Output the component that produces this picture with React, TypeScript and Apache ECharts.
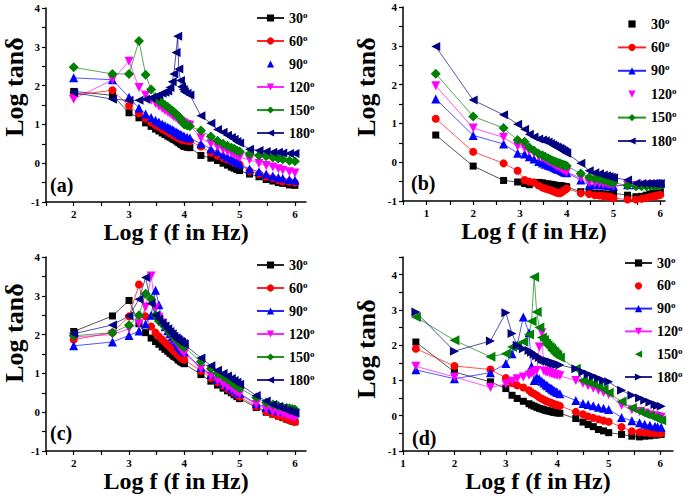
import React, { useEffect, useRef } from 'react';
import * as echarts from 'echarts';

const FONT = '"Liberation Serif", "Times New Roman", serif';

const NAMES = ['30', '60', '90', '120', '150', '180'];
const COLORS = ['#000000', '#ff0000', '#0000ff', '#ff00ff', '#008000', '#000080'];

// Panel (a)
const XA = [2, 2.7, 3, 3.18, 3.3, 3.4, 3.48, 3.54, 3.6, 3.65, 3.7, 3.74, 3.78, 3.81, 3.85, 3.88, 3.9, 3.93, 3.95, 3.98, 4.0, 4.05, 4.1, 4.3, 4.48, 4.6, 4.7, 4.78, 4.85, 4.9, 4.95, 5.0, 5.18, 5.35, 5.48, 5.6, 5.7, 5.78, 5.9, 6.0];
const A30 = [1.85, 1.75, 1.3, 1.17, 1.04, 0.95, 0.88, 0.83, 0.78, 0.74, 0.70, 0.67, 0.64, 0.61, 0.58, 0.55, 0.53, 0.50, 0.48, 0.45, 0.43, 0.41, 0.40, 0.20, 0.13, 0.07, 0.0, -0.05, -0.1, -0.13, -0.16, -0.19, -0.28, -0.35, -0.42, -0.46, -0.5, -0.52, -0.56, -0.57];
const A60 = [1.75, 1.88, 1.48, 1.28, 1.15, 1.05, 0.98, 0.93, 0.88, 0.84, 0.80, 0.77, 0.74, 0.71, 0.68, 0.66, 0.64, 0.62, 0.61, 0.60, 0.59, 0.58, 0.57, 0.43, 0.27, 0.19, 0.13, 0.09, 0.05, 0.02, 0.0, -0.03, -0.2, -0.28, -0.35, -0.39, -0.44, -0.47, -0.48, -0.5];
const A90 = [2.2, 2.15, 1.7, 1.42, 1.27, 1.18, 1.11, 1.06, 1.01, 0.97, 0.93, 0.90, 0.87, 0.84, 0.81, 0.78, 0.76, 0.74, 0.72, 0.70, 0.69, 0.67, 0.65, 0.5, 0.37, 0.3, 0.22, 0.16, 0.11, 0.07, 0.03, -0.02, -0.15, -0.22, -0.28, -0.33, -0.37, -0.39, -0.42, -0.44];
const A120 = [1.65, 2.15, 2.63, 1.95, 1.75, 1.62, 1.54, 1.47, 1.41, 1.36, 1.32, 1.28, 1.24, 1.2, 1.17, 1.14, 1.11, 1.08, 1.06, 1.04, 1.02, 1.0, 0.98, 0.65, 0.5, 0.42, 0.35, 0.3, 0.26, 0.22, 0.19, 0.15, 0.09, -0.01, -0.06, -0.1, -0.14, -0.18, -0.22, -0.25];
const A150 = [2.47, 2.3, 2.3, 3.15, 2.28, 1.9, 1.7, 1.6, 1.55, 1.5, 1.45, 1.4, 1.36, 1.32, 1.27, 1.23, 1.2, 1.15, 1.1, 1.05, 1.0, 0.97, 0.95, 0.84, 0.69, 0.58, 0.5, 0.45, 0.4, 0.37, 0.33, 0.3, 0.24, 0.2, 0.18, 0.15, 0.12, 0.1, 0.06, 0.05];
const A180 = [1.82, 1.65, 1.62, 1.62, 1.65, 1.68, 1.72, 1.76, 1.8, 1.83, 1.86, 1.95, 2.1, 2.3, 2.85, 3.27, 2.43, 2.13, 1.97, 1.9, 1.84, 1.8, 1.76, 1.22, 1.03, 0.87, 0.8, 0.72, 0.66, 0.62, 0.56, 0.52, 0.36, 0.33, 0.3, 0.28, 0.28, 0.26, 0.25, 0.25];

// Panel (b)
const XB = [1.2, 2.0, 2.65, 2.95, 3.1, 3.2, 3.3, 3.4, 3.48, 3.54, 3.6, 3.65, 3.7, 3.74, 3.78, 3.81, 3.85, 3.88, 3.9, 3.93, 3.95, 3.98, 4.0, 4.3, 4.48, 4.6, 4.7, 4.78, 4.85, 4.9, 4.95, 5.0, 5.3, 5.48, 5.6, 5.7, 5.78, 5.85, 5.9, 5.95, 6.0];
const B30 = [0.7, -0.1, -0.47, -0.51, -0.55, -0.58, -0.53, -0.52, -0.53, -0.55, -0.56, -0.57, -0.58, -0.59, -0.6, -0.6, -0.61, -0.61, -0.62, -0.62, -0.63, -0.63, -0.64, -0.76, -0.78, -0.8, -0.81, -0.82, -0.82, -0.83, -0.83, -0.8, -0.85, -0.89, -0.88, -0.85, -0.82, -0.8, -0.79, -0.77, -0.76];
const B60 = [1.12, 0.27, -0.03, -0.22, -0.46, -0.5, -0.52, -0.6, -0.65, -0.68, -0.7, -0.72, -0.74, -0.76, -0.78, -0.79, -0.8, -0.78, -0.76, -0.74, -0.72, -0.7, -0.68, -0.8, -0.82, -0.85, -0.86, -0.87, -0.88, -0.89, -0.9, -0.93, -0.96, -0.96, -0.94, -0.92, -0.9, -0.88, -0.87, -0.86, -0.84];
const B90 = [1.63, 0.69, 0.47, 0.23, 0.21, 0.14, 0.08, 0.02, -0.02, -0.05, -0.08, -0.1, -0.12, -0.14, -0.16, -0.18, -0.19, -0.21, -0.22, -0.24, -0.25, -0.26, -0.27, -0.46, -0.59, -0.58, -0.58, -0.59, -0.59, -0.6, -0.6, -0.62, -0.58, -0.58, -0.57, -0.57, -0.56, -0.56, -0.56, -0.55, -0.55];
const B120 = [1.97, 0.88, 0.64, 0.41, 0.36, 0.28, 0.23, 0.15, 0.1, 0.06, 0.02, -0.01, -0.04, -0.07, -0.1, -0.12, -0.14, -0.16, -0.18, -0.2, -0.21, -0.23, -0.25, -0.41, -0.53, -0.54, -0.55, -0.56, -0.56, -0.57, -0.57, -0.6, -0.6, -0.6, -0.6, -0.6, -0.59, -0.59, -0.58, -0.58, -0.58];
const B150 = [2.28, 1.18, 0.88, 0.57, 0.53, 0.38, 0.3, 0.22, 0.18, 0.14, 0.1, 0.07, 0.04, 0.02, 0.0, -0.02, -0.03, -0.05, -0.06, -0.07, -0.08, -0.09, -0.1, -0.29, -0.39, -0.42, -0.44, -0.46, -0.48, -0.5, -0.51, -0.53, -0.6, -0.62, -0.62, -0.62, -0.61, -0.61, -0.61, -0.6, -0.6];
const B180 = [2.98, 1.6, 1.22, 0.98, 0.85, 0.72, 0.65, 0.6, 0.57, 0.55, 0.52, 0.48, 0.45, 0.42, 0.39, 0.37, 0.35, 0.33, 0.31, 0.29, 0.27, 0.25, 0.23, -0.03, -0.22, -0.27, -0.3, -0.33, -0.35, -0.37, -0.39, -0.4, -0.46, -0.54, -0.55, -0.55, -0.55, -0.55, -0.55, -0.55, -0.55];

// Panel (c)
const XC = [2, 2.7, 3, 3.18, 3.3, 3.4, 3.48, 3.54, 3.6, 3.65, 3.7, 3.74, 3.78, 3.81, 3.85, 3.88, 3.9, 3.93, 3.95, 3.98, 4.0, 4.3, 4.48, 4.6, 4.7, 4.78, 4.85, 4.9, 4.95, 5.0, 5.3, 5.48, 5.6, 5.7, 5.78, 5.85, 5.9, 5.95, 6.0];
const C30 = [2.08, 2.48, 2.88, 2.28, 2.05, 1.91, 1.82, 1.75, 1.68, 1.62, 1.57, 1.52, 1.48, 1.44, 1.41, 1.37, 1.34, 1.31, 1.29, 1.27, 1.25, 0.97, 0.8, 0.7, 0.62, 0.55, 0.5, 0.45, 0.4, 0.35, 0.12, 0.0, -0.05, -0.1, -0.14, -0.18, -0.2, -0.23, -0.25];
const C60 = [1.87, 2.05, 2.47, 3.29, 2.47, 2.21, 2.05, 1.95, 1.87, 1.8, 1.74, 1.68, 1.62, 1.57, 1.53, 1.49, 1.45, 1.42, 1.39, 1.37, 1.35, 1.07, 0.88, 0.77, 0.68, 0.6, 0.55, 0.5, 0.45, 0.4, 0.15, 0.02, -0.05, -0.1, -0.13, -0.17, -0.2, -0.22, -0.25];
const C90 = [1.71, 1.81, 1.98, 2.09, 2.27, 2.5, 3.14, 2.77, 2.35, 2.2, 2.1, 2.02, 1.95, 1.88, 1.82, 1.76, 1.7, 1.66, 1.62, 1.58, 1.55, 1.15, 0.97, 0.85, 0.75, 0.68, 0.62, 0.57, 0.52, 0.48, 0.22, 0.12, 0.07, 0.04, 0.02, 0.0, 0.0, -0.01, -0.02];
const C120 = [1.94, 2.0, 2.15, 2.28, 2.71, 3.51, 2.69, 2.45, 2.3, 2.2, 2.1, 2.0, 1.93, 1.86, 1.8, 1.75, 1.7, 1.65, 1.6, 1.56, 1.52, 1.12, 0.93, 0.82, 0.72, 0.65, 0.6, 0.55, 0.5, 0.46, 0.2, 0.08, 0.02, -0.02, -0.05, -0.08, -0.1, -0.12, -0.14];
const C150 = [1.97, 2.05, 2.24, 2.5, 3.05, 2.92, 2.5, 2.35, 2.28, 2.2, 2.13, 2.06, 2.0, 1.94, 1.89, 1.84, 1.8, 1.76, 1.73, 1.7, 1.68, 1.3, 1.12, 1.0, 0.92, 0.85, 0.78, 0.72, 0.67, 0.62, 0.38, 0.25, 0.2, 0.16, 0.13, 0.11, 0.1, 0.08, 0.07];
const C180 = [2.02, 2.25, 2.48, 2.91, 3.47, 2.8, 2.5, 2.4, 2.3, 2.22, 2.15, 2.08, 2.02, 1.96, 1.92, 1.88, 1.85, 1.82, 1.8, 1.77, 1.75, 1.4, 1.2, 1.08, 1.0, 0.93, 0.87, 0.82, 0.77, 0.72, 0.43, 0.29, 0.2, 0.15, 0.1, 0.05, 0.03, 0.0, -0.02];

// Panel (d)
const XD = [1.25, 2.0, 2.7, 3.0, 3.12, 3.22, 3.34, 3.45, 3.5, 3.55, 3.6, 3.65, 3.7, 3.74, 3.78, 3.81, 3.85, 3.88, 3.9, 3.93, 3.95, 3.98, 4.0, 4.05, 4.36, 4.5, 4.6, 4.7, 4.8, 4.9, 5.0, 5.25, 5.45, 5.6, 5.7, 5.8, 5.9, 5.95, 6.02];
const D30 = [2.09, 1.24, 0.96, 0.77, 0.58, 0.49, 0.41, 0.34, 0.3, 0.27, 0.24, 0.21, 0.19, 0.17, 0.15, 0.14, 0.13, 0.12, 0.11, 0.1, 0.09, 0.09, 0.08, 0.07, -0.08, -0.18, -0.25, -0.31, -0.39, -0.43, -0.48, -0.53, -0.58, -0.6, -0.58, -0.57, -0.55, -0.54, -0.53];
const D60 = [1.9, 1.41, 1.31, 1.07, 0.93, 0.86, 0.8, 0.72, 0.66, 0.62, 0.58, 0.52, 0.48, 0.45, 0.42, 0.4, 0.38, 0.36, 0.35, 0.33, 0.32, 0.31, 0.3, 0.28, 0.11, 0.04, -0.02, -0.06, -0.1, -0.14, -0.17, -0.32, -0.44, -0.47, -0.48, -0.49, -0.5, -0.5, -0.5];
const D90 = [1.3, 1.05, 1.22, 1.48, 1.76, 2.0, 2.8, 2.35, 1.4, 1.0, 1.1, 1.05, 0.98, 0.93, 0.88, 0.85, 0.8, 0.78, 0.75, 0.72, 0.7, 0.68, 0.66, 0.62, 0.43, 0.35, 0.32, 0.28, 0.24, 0.21, 0.18, -0.05, -0.14, -0.2, -0.24, -0.27, -0.3, -0.31, -0.33];
const D120 = [1.4, 1.1, 0.8, 0.9, 0.98, 1.05, 1.1, 1.15, 1.2, 1.25, 1.28, 1.95, 2.35, 1.27, 1.25, 1.23, 1.22, 1.2, 1.19, 1.18, 1.17, 1.16, 1.15, 1.13, 1.0, 0.92, 0.85, 0.78, 0.72, 0.66, 0.6, 0.3, 0.17, 0.12, 0.08, 0.03, 0.0, -0.02, -0.04];
const D150 = [2.8, 2.14, 1.67, 1.76, 1.95, 2.0, 2.1, 2.3, 2.68, 3.93, 2.94, 2.5, 2.22, 2.15, 2.05, 2.0, 1.95, 1.9, 1.85, 1.82, 1.78, 1.74, 1.7, 1.65, 1.33, 1.0, 0.95, 0.9, 0.82, 0.75, 0.65, 0.4, 0.22, 0.12, 0.05, 0.0, -0.05, -0.1, -0.13];
const D180 = [2.94, 1.83, 2.12, 2.92, 2.33, 2.0, 1.9, 1.85, 1.8, 1.75, 1.7, 1.65, 1.6, 1.58, 1.56, 1.55, 1.53, 1.52, 1.5, 1.49, 1.48, 1.47, 1.46, 1.44, 1.33, 1.24, 1.18, 1.12, 1.06, 1.0, 0.96, 0.72, 0.58, 0.5, 0.44, 0.38, 0.32, 0.29, 0.27];

// Ticks and tick labels
const X_TICKS_AC = [1.5, 2, 2.5, 3, 3.5, 4, 4.5, 5, 5.5, 6];
const X_LABELS_AC = [2, 3, 4, 5, 6];
const X_TICKS_B = [0.5, 1, 1.5, 2, 2.5, 3, 3.5, 4, 4.5, 5, 5.5, 6];
const X_TICKS_D = [1, 1.5, 2, 2.5, 3, 3.5, 4, 4.5, 5, 5.5, 6];
const X_LABELS_BD = [1, 2, 3, 4, 5, 6];
const Y_TICKS = [-1, -0.5, 0, 0.5, 1, 1.5, 2, 2.5, 3, 3.5, 4];
const Y_TICKS_D = [-1, -0.5, 0, 0.5, 1, 1.5, 2, 2.5, 3, 3.5, 4, 4.5];
const Y_LABELS = [-1, 0, 1, 2, 3, 4];

const SYMBOLS_STD = ['rect', 'circle', 'triangle', 'triangle', 'diamond', 'triangle'];
const ROTS_STD = [0, 0, 0, 180, 0, 90];
const SYMBOLS_D = ['rect', 'circle', 'triangle', 'triangle', 'triangle', 'triangle'];
const ROTS_D = [0, 0, 0, 180, 90, -90];
const SIZES = [7, 8, 9, 9, 10, 9];

const PANELS = [
  {
    id: 'a', xs: XA, ys: [A30, A60, A90, A120, A150, A180],
    grid: { left: 41, top: 8, width: 265, height: 194 }, xMin: 1.5, xMax: 6.2, yMax: 4,
    xTicks: X_TICKS_AC, xLabels: X_LABELS_AC, yTicks: Y_TICKS,
    legend: { left: 251, top: 5, itemWidth: 27, itemGap: 8 }, noLine: [2],
    syms: SYMBOLS_STD, rots: ROTS_STD, label: { x: 50, y: 185 },
    yNameGap: 18, yShift: 36, xNameGap: 14,
  },
  {
    id: 'b', xs: XB, ys: [B30, B60, B90, B120, B150, B180],
    grid: { left: 403, top: 7, width: 262, height: 194 }, xMin: 0.5, xMax: 6.1, yMax: 4,
    xTicks: X_TICKS_B, xLabels: X_LABELS_BD, yTicks: Y_TICKS,
    legend: { left: 612, top: 11, itemWidth: 28, itemGap: 8.4 }, noLine: [0, 3],
    syms: SYMBOLS_STD, rots: ROTS_STD, label: { x: 411, y: 183 },
    yNameGap: 24, yShift: 34, xNameGap: 13,
  },
  {
    id: 'c', xs: XC, ys: [C30, C60, C90, C120, C150, C180],
    grid: { left: 41, top: 257, width: 265, height: 194 }, xMin: 1.5, xMax: 6.2, yMax: 4,
    xTicks: X_TICKS_AC, xLabels: X_LABELS_AC, yTicks: Y_TICKS,
    legend: { left: 251, top: 252, itemWidth: 27, itemGap: 8 }, noLine: [],
    syms: SYMBOLS_STD, rots: ROTS_STD, label: { x: 50, y: 433 },
    yNameGap: 18, yShift: 42, xNameGap: 11,
  },
  {
    id: 'd', xs: XD, ys: [D30, D60, D90, D120, D150, D180],
    grid: { left: 403, top: 257, width: 270, height: 194 }, xMin: 1, xMax: 6.25, yMax: 4.5,
    xTicks: X_TICKS_D, xLabels: X_LABELS_BD, yTicks: Y_TICKS_D,
    legend: { left: 619, top: 250, itemWidth: 27, itemGap: 7.8 }, noLine: [1, 4],
    syms: SYMBOLS_D, rots: ROTS_D, label: { x: 412, y: 438 },
    yNameGap: 24, yShift: 10, xNameGap: 15,
  },
];

const tickLabelStyle = { fontFamily: FONT, fontWeight: 'bold', fontSize: 11, color: '#000' };
const axisNameStyle = { fontFamily: FONT, fontWeight: 'bold', color: '#000' };

function buildOption() {
  const grid = PANELS.map((p) => ({ ...p.grid, containLabel: false }));
  const xAxis = PANELS.map((p, i) => ({
    type: 'value', gridIndex: i, min: p.xMin, max: p.xMax,
    name: 'Log f (f in Hz)', nameLocation: 'middle', nameGap: p.xNameGap,
    nameTextStyle: { ...axisNameStyle, fontSize: 24 },
    axisLine: { show: true, onZero: false, lineStyle: { color: '#000', width: 1.5 } },
    axisTick: { show: true, inside: false, length: 4, customValues: p.xTicks, lineStyle: { color: '#000', width: 1.2 } },
    axisLabel: { ...tickLabelStyle, customValues: p.xLabels, margin: 6 },
    splitLine: { show: false },
  }));
  const yAxis = PANELS.map((p, i) => ({
    type: 'value', gridIndex: i, min: -1, max: p.yMax,
    name: 'Log tanδ', nameLocation: 'middle', nameGap: p.yNameGap, nameRotate: 90,
    nameTextStyle: { ...axisNameStyle, fontSize: 26, padding: [0, 0, 0, p.yShift] },
    axisLine: { show: true, onZero: false, lineStyle: { color: '#000', width: 1.5 } },
    axisTick: { show: true, inside: false, length: 4, customValues: p.yTicks, lineStyle: { color: '#000', width: 1.2 } },
    axisLabel: { ...tickLabelStyle, customValues: Y_LABELS, margin: 6 },
    splitLine: { show: false },
  }));
  const series: any[] = [];
  PANELS.forEach((p, i) => {
    NAMES.forEach((n, k) => {
      series.push({
        type: 'line', name: p.id + n, xAxisIndex: i, yAxisIndex: i,
        data: p.xs.map((x, j) => [x, p.ys[k][j]]),
        symbol: p.syms[k], symbolRotate: p.rots[k], symbolSize: SIZES[k],
        showSymbol: true, showAllSymbol: true,
        itemStyle: { color: COLORS[k] },
        lineStyle: { color: COLORS[k], width: 0.8, opacity: 0.85 },
        emphasis: { disabled: true },
      });
    });
  });
  const legend = PANELS.map((p) => ({
    orient: 'vertical', left: p.legend.left, top: p.legend.top,
    itemWidth: p.legend.itemWidth, itemHeight: 9, itemGap: p.legend.itemGap,
    selectedMode: false,
    data: NAMES.map((n, k) => (p.noLine.includes(k) ? { name: p.id + n, lineStyle: { opacity: 0 } } : { name: p.id + n })),
    formatter: (name: string) => `{n|${name.slice(1)}}{s|o}`,
    textStyle: {
      rich: {
        n: { fontFamily: FONT, fontWeight: 'bold', fontSize: 14, color: '#000', lineHeight: 16 },
        s: { fontFamily: FONT, fontWeight: 'bold', fontSize: 9, color: '#000', verticalAlign: 'top', lineHeight: 9 },
      },
    },
  }));
  const graphic = PANELS.map((p) => ({
    type: 'text', x: p.label.x, y: p.label.y,
    style: { text: `(${p.id})`, fontFamily: FONT, fontWeight: 'bold', fontSize: 20, fill: '#000', verticalAlign: 'middle' },
  }));
  return { animation: false, backgroundColor: '#ffffff', grid, xAxis, yAxis, series, legend, graphic };
}

export default function App() {
  const ref = useRef<HTMLDivElement>(null);
  useEffect(() => {
    if (!ref.current) return;
    const chart = echarts.init(ref.current, null, { renderer: 'svg' });
    chart.setOption(buildOption() as any);
    return () => chart.dispose();
  }, []);
  return <div ref={ref} style={{ position: 'fixed', left: 0, top: 0, width: 685, height: 497, background: '#fff' }} />;
}
